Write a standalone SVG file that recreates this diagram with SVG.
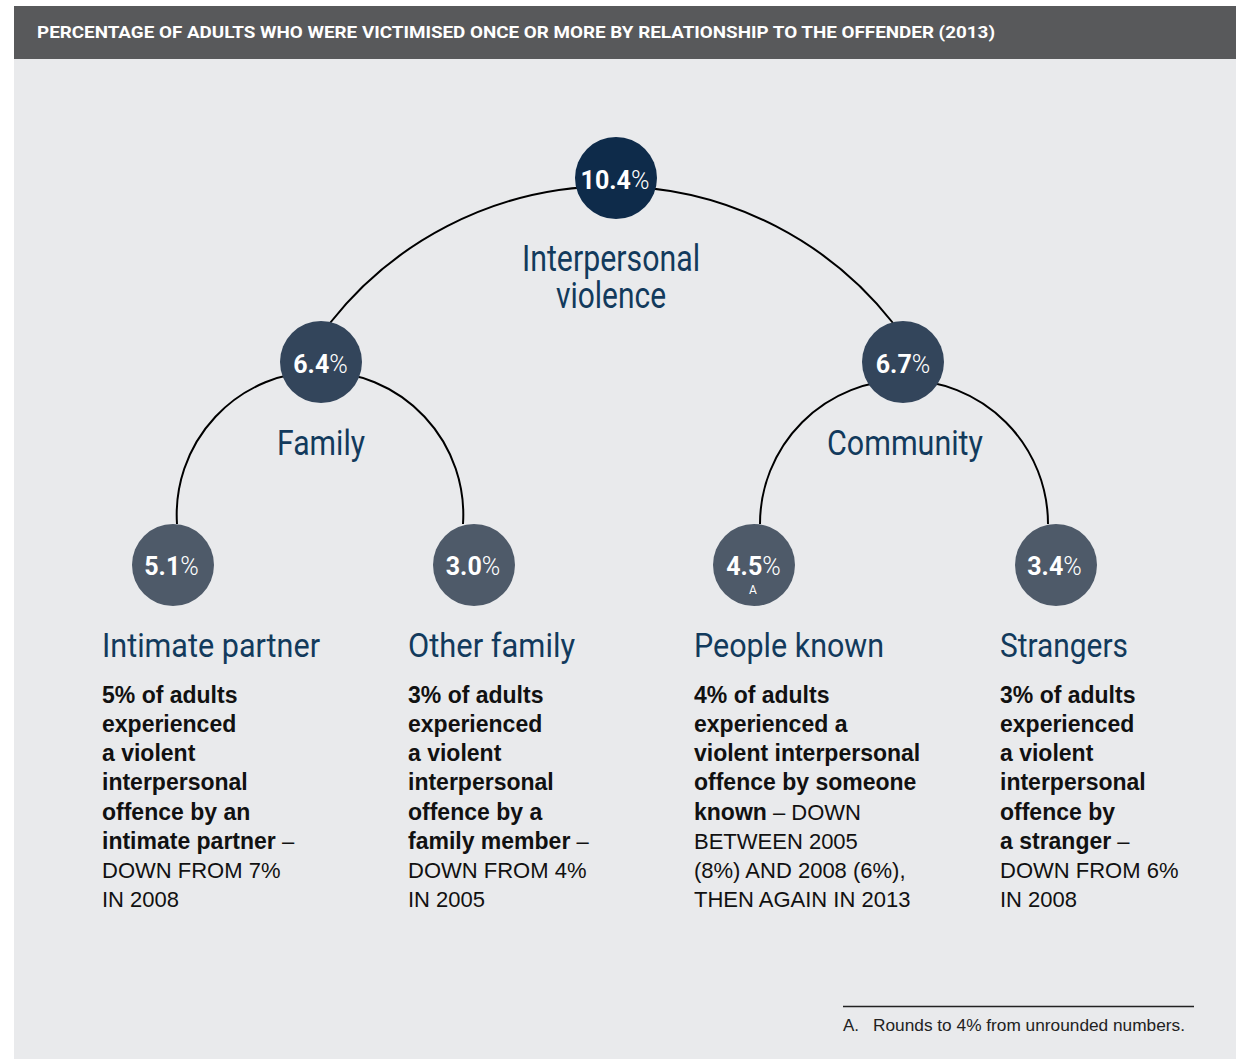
<svg xmlns="http://www.w3.org/2000/svg" width="1236" height="1059" viewBox="0 0 1236 1059">
<style>
.hdr{font-family:Roboto,"Liberation Sans",sans-serif;font-weight:700;font-size:17px;fill:#ffffff}
.ttl{font-family:Roboto,"Liberation Sans",sans-serif;font-weight:400;fill:#123a5c}
.num{font-family:Roboto,"Liberation Sans",sans-serif;font-size:25px;fill:#ffffff;text-anchor:middle}
.num .b{font-weight:700}
.num .l{font-weight:300}
.body{font-family:"Liberation Sans",Arial,sans-serif;fill:#111111}
.body .b{font-weight:700;font-size:23px}
.body .r{font-weight:400;font-size:22px}
.arc{fill:none;stroke:#000000;stroke-width:2}
.c0{fill:#0e2b4a}
.c1{fill:#33455b}
.c2{fill:#4e5a69}
.note{font-family:"Liberation Sans",Arial,sans-serif;font-size:17px;fill:#222222}
</style>
<rect x="0" y="0" width="1236" height="1059" fill="#ffffff"/>
<rect x="14" y="6" width="1222" height="1053" fill="#e9eaec"/>
<rect x="14" y="6" width="1222" height="53" fill="#58595b"/>
<text class="hdr" x="37" y="38" textLength="958" lengthAdjust="spacingAndGlyphs">PERCENTAGE OF ADULTS WHO WERE VICTIMISED ONCE OR MORE BY RELATIONSHIP TO THE OFFENDER (2013)</text>

<g id="connectors">
<path class="arc" d="M330,323 A358,358 0 0 1 893,323"/>
<path class="arc" d="M177,524 A143.3,143.3 0 1 1 463,524"/>
<path class="arc" d="M760,524 A143.3,143.3 0 1 1 1048,524"/>
</g>

<g id="node-interpersonal">
<circle class="c0" cx="616" cy="178" r="41"/>
<text class="num" x="615" y="188.5"><tspan class="b">10.4</tspan><tspan class="l">%</tspan></text>
<text class="ttl" x="611" y="271" font-size="36" text-anchor="middle" textLength="178" lengthAdjust="spacingAndGlyphs">Interpersonal</text>
<text class="ttl" x="611" y="308" font-size="36" text-anchor="middle" textLength="110" lengthAdjust="spacingAndGlyphs">violence</text>
</g>

<g id="node-family">
<circle class="c1" cx="321" cy="362" r="41"/>
<text class="num" x="320.5" y="372.5"><tspan class="b">6.4</tspan><tspan class="l">%</tspan></text>
<text class="ttl" x="321" y="455" font-size="35" text-anchor="middle" textLength="88" lengthAdjust="spacingAndGlyphs">Family</text>
</g>

<g id="node-community">
<circle class="c1" cx="903" cy="362" r="41"/>
<text class="num" x="903" y="372.5"><tspan class="b">6.7</tspan><tspan class="l">%</tspan></text>
<text class="ttl" x="905" y="455" font-size="35" text-anchor="middle" textLength="156" lengthAdjust="spacingAndGlyphs">Community</text>
</g>

<g id="node-intimate-partner">
<circle class="c2" cx="173" cy="565" r="41"/>
<text class="num" x="171.5" y="575"><tspan class="b">5.1</tspan><tspan class="l">%</tspan></text>
<text class="ttl" x="102" y="657" font-size="33" textLength="218" lengthAdjust="spacingAndGlyphs">Intimate partner</text>
<text class="body">
<tspan class="b" x="102" y="703">5% of adults</tspan>
<tspan class="b" x="102" y="732">experienced</tspan>
<tspan class="b" x="102" y="761">a violent</tspan>
<tspan class="b" x="102" y="790">interpersonal</tspan>
<tspan class="b" x="102" y="820">offence by an</tspan>
<tspan class="b" x="102" y="849">intimate partner</tspan><tspan class="r"> –</tspan>
<tspan class="r" x="102" y="878">DOWN FROM 7%</tspan>
<tspan class="r" x="102" y="907">IN 2008</tspan>
</text>
</g>

<g id="node-other-family">
<circle class="c2" cx="474" cy="565" r="41"/>
<text class="num" x="473" y="575"><tspan class="b">3.0</tspan><tspan class="l">%</tspan></text>
<text class="ttl" x="408" y="657" font-size="33" textLength="167" lengthAdjust="spacingAndGlyphs">Other family</text>
<text class="body">
<tspan class="b" x="408" y="703">3% of adults</tspan>
<tspan class="b" x="408" y="732">experienced</tspan>
<tspan class="b" x="408" y="761">a violent</tspan>
<tspan class="b" x="408" y="790">interpersonal</tspan>
<tspan class="b" x="408" y="820">offence by a</tspan>
<tspan class="b" x="408" y="849">family member</tspan><tspan class="r"> –</tspan>
<tspan class="r" x="408" y="878">DOWN FROM 4%</tspan>
<tspan class="r" x="408" y="907">IN 2005</tspan>
</text>
</g>

<g id="node-people-known">
<circle class="c2" cx="754" cy="565" r="41"/>
<text class="num" x="753.5" y="575"><tspan class="b">4.5</tspan><tspan class="l">%</tspan></text>
<text x="753" y="594" font-family="Roboto,'Liberation Sans',sans-serif" font-size="12" fill="#ffffff" text-anchor="middle">A</text>
<text class="ttl" x="694" y="657" font-size="33" textLength="190" lengthAdjust="spacingAndGlyphs">People known</text>
<text class="body">
<tspan class="b" x="694" y="703">4% of adults</tspan>
<tspan class="b" x="694" y="732">experienced a</tspan>
<tspan class="b" x="694" y="761">violent interpersonal</tspan>
<tspan class="b" x="694" y="790">offence by someone</tspan>
<tspan class="b" x="694" y="820">known</tspan><tspan class="r"> – DOWN</tspan>
<tspan class="r" x="694" y="849">BETWEEN 2005</tspan>
<tspan class="r" x="694" y="878">(8%) AND 2008 (6%),</tspan>
<tspan class="r" x="694" y="907">THEN AGAIN IN 2013</tspan>
</text>
</g>

<g id="node-strangers">
<circle class="c2" cx="1056" cy="565" r="41"/>
<text class="num" x="1054.5" y="575"><tspan class="b">3.4</tspan><tspan class="l">%</tspan></text>
<text class="ttl" x="1000" y="657" font-size="33" textLength="128" lengthAdjust="spacingAndGlyphs">Strangers</text>
<text class="body">
<tspan class="b" x="1000" y="703">3% of adults</tspan>
<tspan class="b" x="1000" y="732">experienced</tspan>
<tspan class="b" x="1000" y="761">a violent</tspan>
<tspan class="b" x="1000" y="790">interpersonal</tspan>
<tspan class="b" x="1000" y="820">offence by</tspan>
<tspan class="b" x="1000" y="849">a stranger</tspan><tspan class="r"> –</tspan>
<tspan class="r" x="1000" y="878">DOWN FROM 6%</tspan>
<tspan class="r" x="1000" y="907">IN 2008</tspan>
</text>
</g>

<g id="footnote">
<line x1="843" y1="1006.5" x2="1194" y2="1006.5" stroke="#222222" stroke-width="1.4"/>
<text class="note" x="843" y="1031">A.</text>
<text class="note" x="873" y="1031" textLength="312" lengthAdjust="spacingAndGlyphs">Rounds to 4% from unrounded numbers.</text>
</g>
</svg>
